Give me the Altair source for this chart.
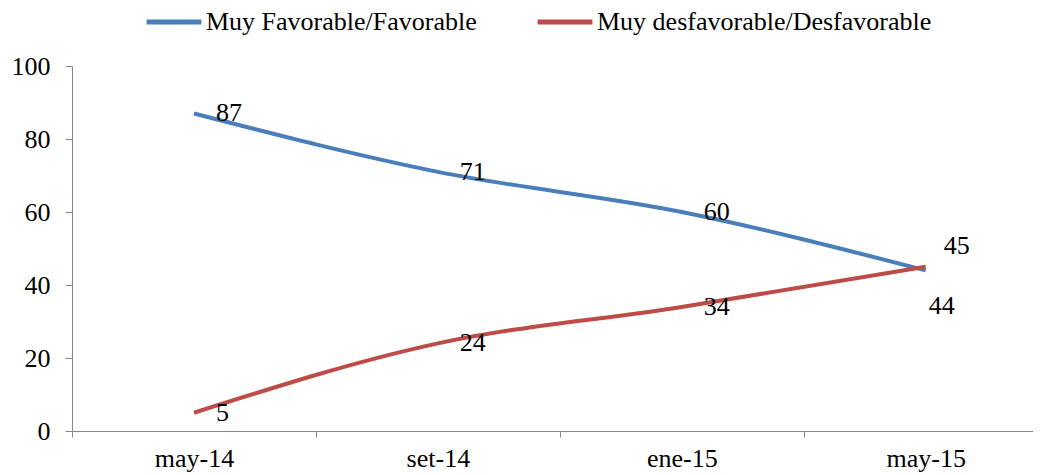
import json
import altair as alt
import pandas as pd

categories = ["may-14", "set-14", "ene-15", "may-15"]
series_names = ["Muy Favorable/Favorable", "Muy desfavorable/Desfavorable"]
favorable = [87, 71, 60, 44]
desfavorable = [5, 24, 34, 45]
colors = ["#4A7EBB", "#BE4B48"]

rows = []
for i, c in enumerate(categories):
    rows.append({"cat": c, "pos": i + 0.5, "serie": series_names[0], "valor": favorable[i], "idx": i})
    rows.append({"cat": c, "pos": i + 0.5, "serie": series_names[1], "valor": desfavorable[i], "idx": i})
df = pd.DataFrame(rows)

FONT = "Liberation Serif"
FS = 26
AXIS_COLOR = "#868686"
cats_js = json.dumps(categories).replace('"', "'")

x_scale = alt.Scale(domain=[0, 3.94], nice=False, zero=False)
y_scale = alt.Scale(domain=[0, 100], nice=False)

x_axis = alt.Axis(
    values=[0, 0.5, 1, 1.5, 2, 2.5, 3, 3.5],
    labelExpr=f"datum.value % 1 === 0 ? '' : {cats_js}[floor(datum.value)]",
    tickColor={"condition": {"test": "datum.value % 1 === 0", "value": AXIS_COLOR}, "value": "transparent"},
    tickSize=6,
    labelPadding=8,
    labelOverlap=False,
    labelFlush=False,
    grid=False,
    title=None,
    domainColor=AXIS_COLOR,
    labelFont=FONT,
    labelFontSize=FS,
    labelColor="black",
)
y_axis = alt.Axis(
    values=[0, 20, 40, 60, 80, 100],
    tickSize=7,
    labelPadding=15,
    grid=False,
    title=None,
    domainColor=AXIS_COLOR,
    tickColor=AXIS_COLOR,
    labelFont=FONT,
    labelFontSize=FS,
    labelColor="black",
)

base = alt.Chart(df)

lines = base.mark_line(interpolate="monotone", strokeWidth=4).encode(
    x=alt.X("pos:Q", scale=x_scale, axis=x_axis),
    y=alt.Y("valor:Q", scale=y_scale, axis=y_axis),
    color=alt.Color(
        "serie:N",
        scale=alt.Scale(domain=series_names, range=colors),
        sort=series_names,
        legend=alt.Legend(
            title=None,
            orient="none",
            legendX=72,
            legendY=-74,
            direction="horizontal",
            symbolType="stroke",
            symbolSize=3000,
            symbolStrokeWidth=5,
            labelFont=FONT,
            labelFontSize=FS,
            labelColor="black",
            labelOffset=2,
            labelLimit=0,
            columnPadding=50,
        ),
    ),
)

text_kw = dict(font=FONT, fontSize=FS, color="black", baseline="middle")

labels_main = base.transform_filter("datum.idx < 3").mark_text(align="left", dx=22, **text_kw).encode(
    x=alt.X("pos:Q", scale=x_scale), y=alt.Y("valor:Q", scale=y_scale), text="valor:Q"
)
label_last_fav = base.transform_filter(
    f"datum.idx === 3 && datum.serie === '{series_names[0]}'"
).mark_text(align="left", dx=3, dy=36, **text_kw).encode(
    x=alt.X("pos:Q", scale=x_scale), y=alt.Y("valor:Q", scale=y_scale), text="valor:Q"
)
label_last_des = base.transform_filter(
    f"datum.idx === 3 && datum.serie === '{series_names[1]}'"
).mark_text(align="left", dx=18, dy=-21, **text_kw).encode(
    x=alt.X("pos:Q", scale=x_scale), y=alt.Y("valor:Q", scale=y_scale), text="valor:Q"
)

chart = (
    alt.layer(lines, labels_main, label_last_fav, label_last_des)
    .properties(
        width=961,
        height=365,
        autosize=alt.AutoSizeParams(type="none"),
        padding={"left": 64, "top": 58, "right": 0, "bottom": 44},
        background="white",
    )
    .configure_view(stroke=None)
)

chart.save("out.html", embed_options={"renderer": "svg", "actions": False})
